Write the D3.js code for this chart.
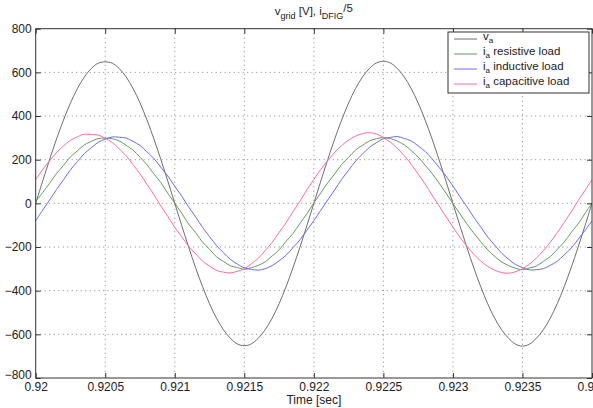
<!DOCTYPE html>
<html><head><meta charset="utf-8">
<script src="https://cdn.jsdelivr.net/npm/d3@7"></script>
<style>
body{margin:0;background:#fff;}
svg text{font-family:"Liberation Sans",Arial,sans-serif;font-size:12px;fill:#222;}
</style></head>
<body><svg id="c" width="593" height="408"></svg>
<script>
// time samples (s), step 0.00005
const tStart = 0.92, tStep = 0.00005;
const xTicks = [0.92,0.9205,0.921,0.9215,0.922,0.9225,0.923,0.9235,0.924];
const xTickLabels = ["0.92","0.9205","0.921","0.9215","0.922","0.9225","0.923","0.9235","0.924"];
const yTicks = [-800,-600,-400,-200,0,200,400,600,800];
const seriesNames = ["v_a","i_a resistive load","i_a inductive load","i_a capacitive load"];
const seriesColors = ["#6e6e6e","#5e9e5e","#6a6aff","#ff6c9c"];

const vGrid = [0,102,201,295,382,460,526,579,618,642,648,642,618,579,526,460,382,295,201,102,
  0,-102,-201,-295,-382,-460,-526,-579,-618,-644,-652,-644,-618,-579,-526,-460,-382,-295,-201,-102,
  0,102,201,295,382,460,526,579,618,643,651,643,618,579,526,460,382,295,201,102,
  0,-102,-201,-295,-382,-460,-526,-579,-618,-645,-654,-645,-618,-579,-526,-460,-382,-295,-201,-102,0];
const iRes = [8,49,92,137,174,213,241,268,284,297,299,296,286,266,244,211,177,135,95,46,
  1,-45,-95,-134,-178,-210,-245,-266,-286,-294,-302,-295,-284,-268,-241,-213,-174,-138,-92,-48,
  2,48,94,135,178,211,244,266,286,296,301,297,285,268,242,212,175,137,93,47,
  -1,-47,-94,-136,-176,-213,-243,-268,-285,-297,-304,-296,-287,-266,-244,-211,-177,-134,-94,-46,1];
const iInd = [-80,-31,15,64,108,154,191,228,255,280,294,304,303,299,284,265,236,205,165,125,
  78,33,-17,-62,-110,-152,-193,-226,-257,-278,-296,-302,-306,-299,-285,-263,-238,-203,-167,-123,
  -79,-32,16,62,110,152,193,226,257,278,296,302,306,297,286,263,238,204,165,125,
  79,31,-15,-64,-108,-154,-191,-228,-256,-280,-294,-305,-304,-299,-284,-265,-236,-205,-165,-124,-80];
const iCap = [108,155,195,233,263,289,305,317,315,313,298,279,250,218,177,135,87,40,-12,-60,
  -110,-153,-197,-231,-265,-287,-307,-315,-319,-311,-300,-277,-252,-216,-179,-133,-89,-38,10,62,
  110,156,196,234,265,290,308,320,324,318,301,280,252,218,179,134,89,38,-11,-61,
  -109,-155,-196,-233,-264,-289,-306,-317,-320,-313,-299,-279,-250,-217,-178,-135,-87,-40,12,60,108];

const svg = d3.select("#c");
const m = {l:35.7, r:592, t:28.7, b:378};
const x = d3.scaleLinear().domain([0.92,0.924]).range([m.l,m.r]);
const y = d3.scaleLinear().domain([-800,800]).range([m.b,m.t]);

// grid
const g = svg.append("g");
g.selectAll(".gx").data(xTicks.slice(1,-1)).join("line")
  .attr("x1",d=>x(d)).attr("x2",d=>x(d)).attr("y1",m.t).attr("y2",m.b)
  .attr("stroke","#666").attr("stroke-width",0.8).attr("stroke-dasharray","1,3.5");
g.selectAll(".gy").data(yTicks.slice(1,-1)).join("line")
  .attr("y1",d=>y(d)).attr("y2",d=>y(d)).attr("x1",m.l).attr("x2",m.r)
  .attr("stroke","#666").attr("stroke-width",0.8).attr("stroke-dasharray","1,3.5");

// series
const all = [vGrid,iRes,iInd,iCap];
const line = d3.line().x((d,i)=>x(tStart+i*tStep)).y(d=>y(d)).curve(d3.curveCatmullRom);
svg.append("clipPath").attr("id","cp").append("rect")
  .attr("x",m.l).attr("y",m.t).attr("width",m.r-m.l).attr("height",m.b-m.t);
svg.append("g").attr("clip-path","url(#cp)").selectAll("path").data(all).join("path")
  .attr("d",line).attr("fill","none").attr("stroke",(d,i)=>seriesColors[i]).attr("stroke-width",1);

// axes
const fmtX = d => xTickLabels[xTicks.indexOf(d)];
svg.append("g").attr("transform",`translate(0,${m.b})`)
  .call(d3.axisBottom(x).tickValues(xTicks).tickFormat(fmtX).tickSizeInner(-5).tickSizeOuter(0).tickPadding(4));
const ay = svg.append("g").attr("transform",`translate(${m.l},0)`)
  .call(d3.axisLeft(y).tickValues(yTicks).tickFormat(d3.format("d")).tickSizeInner(-5).tickSizeOuter(0).tickPadding(4));
svg.append("g").attr("transform",`translate(0,${m.t})`)
  .call(d3.axisTop(x).tickValues(xTicks).tickFormat("").tickSizeInner(-5).tickSizeOuter(0));
svg.append("g").attr("transform",`translate(${m.r},0)`)
  .call(d3.axisRight(y).tickValues(yTicks).tickFormat("").tickSizeInner(-5).tickSizeOuter(0));
svg.selectAll(".domain").remove();
svg.selectAll(".tick line").attr("stroke","#333");
svg.selectAll(".tick text").style("font-size","12px").attr("fill","#222");
ay.selectAll(".tick text").filter(d=>d===-800).attr("dy","0.05em");
svg.append("rect").attr("x",m.l).attr("y",m.t).attr("width",m.r-m.l).attr("height",m.b-m.t)
  .attr("fill","none").attr("stroke","#333").attr("stroke-width",1);

// labels
svg.append("text").attr("x",(m.l+m.r)/2).attr("y",404).attr("text-anchor","middle").text("Time [sec]");
const ti = svg.append("text").attr("x",(m.l+m.r)/2).attr("y",15).attr("text-anchor","middle").style("font-size","11.5px");
ti.append("tspan").text("v");
ti.append("tspan").attr("dy",4).style("font-size","9px").text("grid");
ti.append("tspan").attr("dy",-4).text(" [V], i");
ti.append("tspan").attr("dy",4).style("font-size","9px").text("DFIG");
ti.append("tspan").attr("dy",-7).text("/5");

// legend
const lg = svg.append("g");
lg.append("rect").attr("x",448).attr("y",32).attr("width",141).attr("height",61)
  .attr("fill","#fff").attr("stroke","#333").attr("stroke-width",1);
const rowY = [39,54,69,84];
const legendMain = ["v","i","i","i"];
const legendRest = [""," resistive load"," inductive load"," capacitive load"];
seriesNames.forEach((n,i)=>{
  lg.append("line").attr("x1",454).attr("x2",477).attr("y1",rowY[i]).attr("y2",rowY[i])
    .attr("stroke",seriesColors[i]).attr("stroke-width",1);
  const t = lg.append("text").attr("x",483).attr("y",rowY[i]+1).style("font-size","11.5px");
  t.append("tspan").text(legendMain[i]);
  t.append("tspan").attr("dy",3).style("font-size","8px").text("a");
  if(legendRest[i]) t.append("tspan").attr("dy",-3).text(legendRest[i]);
});
</script></body></html>
